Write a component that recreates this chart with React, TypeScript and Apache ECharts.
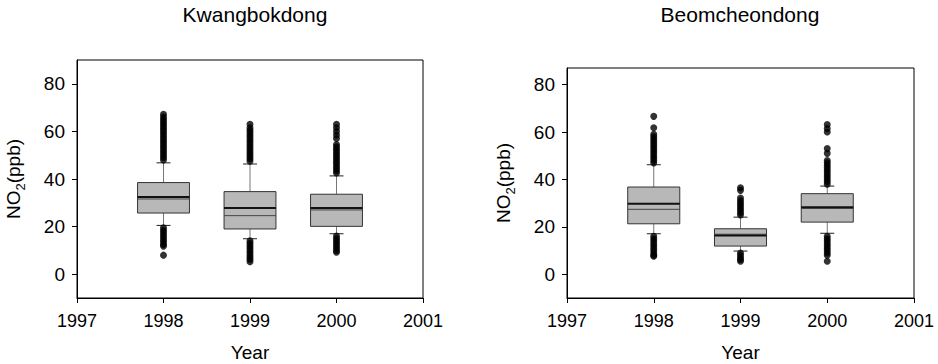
import React, { useEffect, useRef } from "react";
import * as echarts from "echarts";

const FONT = "'Liberation Sans', Arial, Helvetica, sans-serif";

const titles = ["Kwangbokdong", "Beomcheondong"];
const years = [1998, 1999, 2000];
const xTicks = [1997, 1998, 1999, 2000, 2001];
const yTicks = [0, 20, 40, 60, 80];

// Kwangbokdong
const kwQ1 = [25.7, 19.0, 20.1];
const kwQ3 = [38.5, 34.7, 33.6];
const kwMedian = [32.4, 27.8, 27.8];
const kwMean = [31.6, 24.6, 27.0];
const kwWhiskerLow = [20.5, 14.9, 17.0];
const kwWhiskerHigh = [46.8, 46.3, 41.3];
const kwOut1998 = [48, 49, 50, 51, 52, 53, 54, 55, 56, 57, 58, 59, 60, 61, 62, 63, 64, 65, 66, 67.2, 19.5, 18.5, 17.5, 16.5, 15.5, 14.5, 13.5, 12.5, 11.8, 8.0];
const kwOut1999 = [47.5, 48.5, 49.5, 50.5, 51.5, 52.5, 53.5, 54.5, 55.5, 56.5, 57.5, 58.5, 59.5, 60.5, 61.5, 63, 14, 13, 12, 11, 10, 9, 8, 7, 6.2, 5.2];
const kwOut2000 = [42.5, 43.5, 44.5, 45.5, 46.5, 47.5, 48.5, 49.5, 50.5, 51.5, 52.5, 53.5, 54.5, 57, 58.5, 60, 61.5, 63, 16, 15, 14, 13, 12, 11, 10, 9.2];

// Beomcheondong
const bcQ1 = [21.3, 11.9, 22.0];
const bcQ3 = [36.8, 19.2, 34.0];
const bcMedian = [29.8, 16.4, 28.3];
const bcMean = [27.4, 16.9, 27.8];
const bcWhiskerLow = [17.1, 9.8, 17.3];
const bcWhiskerHigh = [46.2, 24.1, 37.2];
const bcOut1998 = [47, 48, 49, 50, 51, 52, 53, 54, 55, 56, 57, 58, 59, 61.8, 66.6, 16, 15, 14, 13, 12, 11, 10, 9, 8, 7.6];
const bcOut1999 = [25, 26, 27, 28, 29, 30, 31, 32.2, 35.4, 36.5, 9, 8, 7, 6.2, 5.5];
const bcOut2000 = [38, 39, 40, 41, 42, 43, 44, 45, 46, 47, 48, 51, 53, 60, 61.5, 63.2, 16, 15, 14, 13, 12, 11, 10, 9, 8, 5.5];

const yMax = [90, 87];

function boxData(q1: number[], med: number[], q3: number[], lo: number[], hi: number[], mean: number[]) {
  return years.map((y, i) => [y, q1[i], med[i], q3[i], lo[i], hi[i], mean[i]]);
}
function outlierData(lists: number[][]) {
  const out: number[][] = [];
  lists.forEach((l, i) => l.forEach((v) => out.push([years[i], v])));
  return out;
}

function renderBox(params: any, api: any) {
  const x = api.value(0);
  const [cx, yQ1] = api.coord([x, api.value(1)]);
  const yMed = api.coord([x, api.value(2)])[1];
  const yQ3 = api.coord([x, api.value(3)])[1];
  const yLo = api.coord([x, api.value(4)])[1];
  const yHi = api.coord([x, api.value(5)])[1];
  const yMean = api.coord([x, api.value(6)])[1];
  const bw = api.size([1, 0])[0] * 0.6;
  const cap = 7;
  return {
    type: "group",
    children: [
      { type: "line", shape: { x1: cx, y1: yHi, x2: cx, y2: yQ3 }, style: { stroke: "#777", lineWidth: 1 } },
      { type: "line", shape: { x1: cx, y1: yQ1, x2: cx, y2: yLo }, style: { stroke: "#777", lineWidth: 1 } },
      { type: "line", shape: { x1: cx - cap, y1: yHi, x2: cx + cap, y2: yHi }, style: { stroke: "#222", lineWidth: 1 } },
      { type: "line", shape: { x1: cx - cap, y1: yLo, x2: cx + cap, y2: yLo }, style: { stroke: "#222", lineWidth: 1 } },
      { type: "rect", shape: { x: cx - bw / 2, y: yQ3, width: bw, height: yQ1 - yQ3 }, style: { fill: "#b8b8b8", stroke: "#333", lineWidth: 1 } },
      { type: "line", shape: { x1: cx - bw / 2, y1: yMean, x2: cx + bw / 2, y2: yMean }, style: { stroke: "#444", lineWidth: 1 } },
      { type: "line", shape: { x1: cx - bw / 2, y1: yMed, x2: cx + bw / 2, y2: yMed }, style: { stroke: "#111", lineWidth: 2 } },
    ],
  };
}

export default function App() {
  const ref = useRef<HTMLDivElement>(null);
  useEffect(() => {
    const chart = echarts.init(ref.current!, null, { renderer: "svg" });
    const grids = [
      { left: 77, top: 60, width: 346, height: 238 },
      { left: 567, top: 68, width: 347, height: 230 },
    ];
    const xAxes = grids.map((_, i) => ({
      type: "value",
      gridIndex: i,
      min: 1997,
      max: 2001,
      interval: 1,
      name: "Year",
      nameLocation: "middle",
      nameGap: 45,
      nameTextStyle: { fontSize: 19, fontFamily: FONT, color: "#000" },
      axisLine: { show: true, onZero: false, lineStyle: { color: "#000", width: 1 } },
      axisTick: { show: true, length: 5, lineStyle: { color: "#000" }, customValues: xTicks },
      axisLabel: { fontSize: 18, fontFamily: FONT, color: "#000", margin: 14, customValues: xTicks, formatter: (v: number) => String(v) },
      splitLine: { show: false },
    }));
    const yAxes = grids.map((_, i) => ({
      type: "value",
      gridIndex: i,
      min: -10,
      max: yMax[i],
      name: "{a|NO}{b|2}{a|(ppb)}",
      nameLocation: "middle",
      nameGap: 50,
      nameTextStyle: {
        fontSize: 19,
        fontFamily: FONT,
        color: "#000",
        rich: {
          a: { fontSize: 19, fontFamily: FONT, color: "#000", lineHeight: 28, verticalAlign: "middle" },
          b: { fontSize: 13, fontFamily: FONT, color: "#000", lineHeight: 28, verticalAlign: "bottom" },
        },
      },
      axisLine: { show: true, onZero: false, lineStyle: { color: "#000", width: 1 } },
      axisTick: { show: true, length: 5, lineStyle: { color: "#000" }, customValues: yTicks },
      axisLabel: { fontSize: 19, fontFamily: FONT, color: "#000", margin: 12, customValues: yTicks },
      splitLine: { show: false },
    }));
    const boxes = [
      boxData(kwQ1, kwMedian, kwQ3, kwWhiskerLow, kwWhiskerHigh, kwMean),
      boxData(bcQ1, bcMedian, bcQ3, bcWhiskerLow, bcWhiskerHigh, bcMean),
    ];
    const outs = [outlierData([kwOut1998, kwOut1999, kwOut2000]), outlierData([bcOut1998, bcOut1999, bcOut2000])];
    const series: any[] = [];
    [0, 1].forEach((i) => {
      series.push({
        type: "custom",
        xAxisIndex: i,
        yAxisIndex: i,
        renderItem: renderBox,
        encode: { x: 0, y: [1, 2, 3, 4, 5] },
        data: boxes[i],
        z: 2,
      });
      series.push({
        type: "scatter",
        xAxisIndex: i,
        yAxisIndex: i,
        symbol: "circle",
        symbolSize: 7,
        itemStyle: { color: "#000" },
        data: outs[i],
        z: 3,
      });
    });
    chart.setOption({
      animation: false,
      backgroundColor: "#fff",
      grid: grids.map((g) => ({
        ...g,
        containLabel: false,
        outerBoundsMode: "none",
        show: true,
        borderColor: "#000",
        borderWidth: 1,
        backgroundColor: "transparent",
      })),
      xAxis: xAxes,
      yAxis: yAxes,
      graphic: [
        { type: "text", x: 255, y: 14, style: { text: titles[0], fontSize: 21, fontFamily: FONT, fill: "#000", align: "center", verticalAlign: "middle" } },
        { type: "text", x: 740, y: 14, style: { text: titles[1], fontSize: 21, fontFamily: FONT, fill: "#000", align: "center", verticalAlign: "middle" } },
      ],
      series,
    });
    return () => chart.dispose();
  }, []);
  return <div ref={ref} style={{ position: "fixed", left: 0, top: 0, width: 938, height: 364 }} />;
}
